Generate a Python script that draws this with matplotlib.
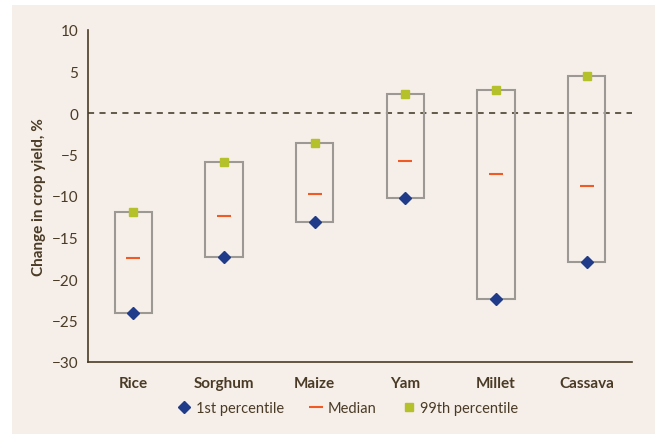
import numpy as np
import matplotlib
matplotlib.use("Agg")
from matplotlib import pyplot as plt
from matplotlib.patches import Rectangle
from matplotlib.lines import Line2D

crops = ["Rice", "Sorghum", "Maize", "Yam", "Millet", "Cassava"]
p1 = [-24.1, -17.35, -13.1, -10.2, -22.4, -18.0]
median = [-17.5, -12.4, -9.7, -5.8, -7.35, -8.8]
p99 = [-11.9, -5.9, -3.6, 2.3, 2.8, 4.5]

brown = "#4a3b26"
bg = "#f6efe9"
plt.rcParams['font.family'] = ['Lato', 'DejaVu Sans']

fig = plt.figure(figsize=(6.55, 4.35), dpi=100)
fig.patches.append(Rectangle((12/655, 0), 1, 1 - 6/435, transform=fig.transFigure,
                             facecolor=bg, edgecolor="none", zorder=-10))
ax = fig.add_axes([88/655, 1 - 363/435, 544/655, 332/435])
ax.set_facecolor("none")

x = np.arange(len(crops))
w = 0.41
for xi, lo, hi in zip(x, p1, p99):
    ax.add_patch(Rectangle((xi - w/2, lo), w, hi - lo, facecolor="none",
                           edgecolor="#9c9893", linewidth=1.5, zorder=2))

ax.axhline(0, color="#3a3320", linestyle=(0, (4, 3.5)), linewidth=1.1, zorder=1)
ax.plot(x, p1, linestyle="none", marker="D", markersize=6, color="#1f3b8a", zorder=4)
ax.plot(x, median, linestyle="none", marker="_", markersize=9.5, markeredgewidth=1.5,
        color="#f15a24", zorder=4)
ax.plot(x, p99, linestyle="none", marker="s", markersize=6.3, color="#b5c12a", zorder=4)

ax.set_xlim(-0.5, len(crops) - 0.5)
ax.set_ylim(-30, 10)
ax.set_yticks(np.arange(-30, 11, 5))
ax.set_xticks(x)
ax.set_xticklabels(crops, fontsize=11, fontweight="bold", color=brown)
ax.tick_params(axis="y", length=0, labelsize=11, labelcolor=brown, pad=7)
ax.tick_params(axis="x", length=0, pad=10)
for s in ["top", "right"]:
    ax.spines[s].set_visible(False)
for s in ["left", "bottom"]:
    ax.spines[s].set_color(brown)
    ax.spines[s].set_linewidth(1.2)
ax.set_ylabel("Change in crop yield, %", fontsize=11, fontweight="bold", color=brown, labelpad=4)

handles = [
    Line2D([], [], linestyle="none", marker="D", markersize=6, color="#1f3b8a"),
    Line2D([], [], linestyle="none", marker="_", markersize=9.5, markeredgewidth=1.5, color="#f15a24"),
    Line2D([], [], linestyle="none", marker="s", markersize=6, color="#b5c12a"),
]
leg = fig.legend(handles, ["1st percentile", "Median", "99th percentile"], loc="center",
                 bbox_to_anchor=(0.53, 1 - 409/435), ncol=3, frameon=False, fontsize=10.5,
                 handletextpad=0.2, columnspacing=1.6, handlelength=1.2)
for t in leg.get_texts():
    t.set_color(brown)

fig.savefig("out.png", dpi=100)
